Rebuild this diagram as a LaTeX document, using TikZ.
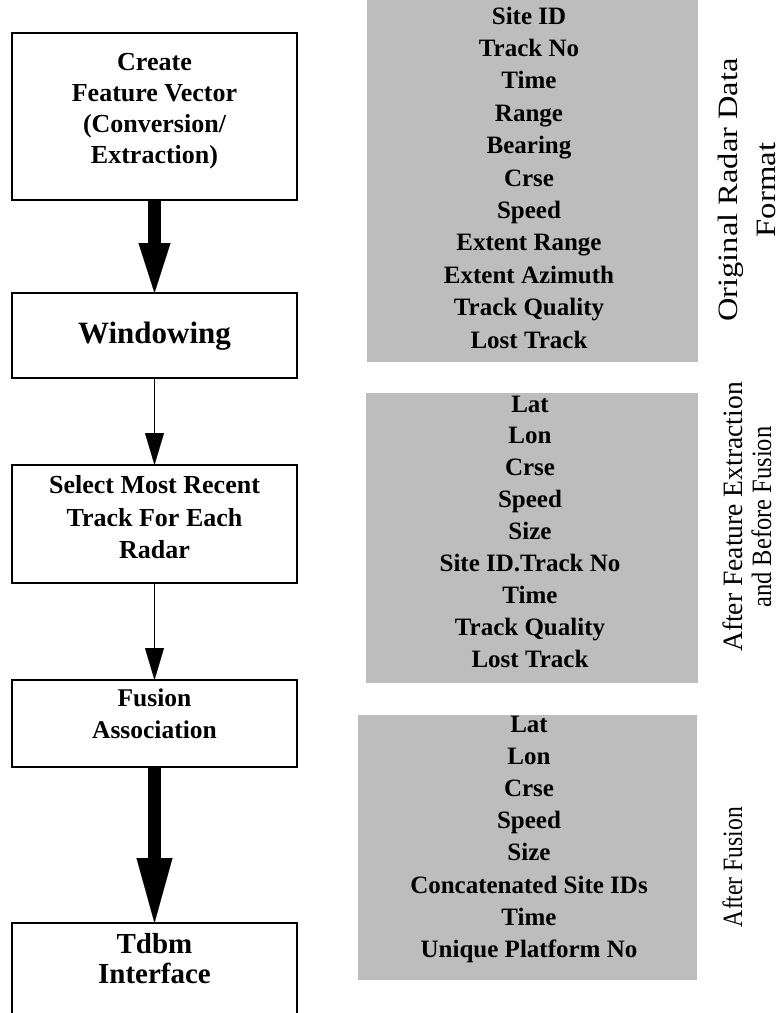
\documentclass[tikz,border=0pt]{standalone}
\usepackage{fontspec}
\setmainfont{Liberation Serif}
\usetikzlibrary{arrows.meta}
\definecolor{halftone}{gray}{0.74}
\tikzset{
  stage/.style={draw, line width=1.2pt, minimum width=285pt, inner sep=0pt, outer sep=0pt},
  panel/.style={fill=halftone, inner sep=0pt, outer sep=0pt},
  heavy/.style 2 args={line width=13pt, -{Triangle[length=#1, width=#2, line width=0.1pt]}},
  light/.style={line width=1.5pt, -{Triangle[length=32pt, width=19pt, line width=0.1pt]}},
  stagetext/.style={font=\bfseries\fontsize{#1}{#1}\selectfont, anchor=base, inner sep=0pt},
  fieldtext/.style={font=\bfseries\fontsize{25}{25}\selectfont, anchor=base, inner sep=0pt},
  sidelabel/.style={font=\fontsize{28}{28}\selectfont, anchor=base, inner sep=0pt, rotate=90}
}
\begin{document}
\begin{tikzpicture}[x=1pt, y=-1pt]
\path[use as bounding box] (0,0) rectangle (783,1013);
\clip (0,0) rectangle (783,1013);
\fill[white] (0,0) rectangle (783,1013);

% processing stages
\node[stage, minimum height=167pt] (create) at (154.5,116.5) {};
\node[stage, minimum height=85pt]  (window) at (154.5,335.5) {};
\node[stage, minimum height=118pt] (select) at (154.5,524) {};
\node[stage, minimum height=87pt]  (fusion) at (154.5,723.5) {};
\node[stage, minimum height=110pt] (tdbm)   at (154.5,978) {};

\node[stagetext=26] (create-1) at (154.5,70)  {Create};
\node[stagetext=26] (create-2) at (154.5,101) {Feature Vector};
\node[stagetext=26] (create-3) at (154.5,132) {(Conversion/};
\node[stagetext=26] (create-4) at (154.5,163) {Extraction)};

\node[stagetext=31] (window-1) at (154.5,343) {Windowing};

\node[stagetext=26] (select-1) at (154.5,493) {Select Most Recent};
\node[stagetext=26] (select-2) at (154.5,526) {Track For Each};
\node[stagetext=26] (select-3) at (154.5,558) {Radar};

\node[stagetext=25.5] (fusion-1) at (154.5,706) {Fusion};
\node[stagetext=25.5] (fusion-2) at (154.5,738) {Association};

\node[stagetext=29] (tdbm-1) at (154.5,953) {Tdbm};
\node[stagetext=29] (tdbm-2) at (154.5,983) {Interface};

% flow between stages
\draw[heavy={50pt}{32pt}] (create.south) -- (window.north);
\draw[light] (window.south) -- (select.north);
\draw[light] (select.south) -- (fusion.north);
\draw[heavy={65pt}{36pt}] (fusion.south) -- (tdbm.north);

% record layouts
\node[panel, minimum width=331pt, minimum height=372pt] (orig) at (532.5,176) {};
\node[panel, minimum width=332pt, minimum height=290pt] (feat) at (532,538) {};
\node[panel, minimum width=339pt, minimum height=265pt] (fused) at (527.5,847.5) {};

\foreach \txt [count=\i from 0] in {Site ID, Track No, Time, Range, Bearing, Crse, Speed,
    Extent Range, Extent Azimuth, Track Quality, Lost Track}
  \node[fieldtext] (orig-\i) at (529,{24+32.4*\i}) {\txt};

\foreach \txt [count=\i from 0] in {Lat, Lon, Crse, Speed, Size, Site ID.Track No, Time,
    Track Quality, Lost Track}
  \node[fieldtext] (feat-\i) at (530,{412+31.9*\i}) {\txt};

\foreach \txt [count=\i from 0] in {Lat, Lon, Crse, Speed, Size, Concatenated Site IDs, Time,
    Unique Platform No}
  \node[fieldtext] (fused-\i) at (529,{732+32.2*\i}) {\txt};

% layout captions
\node[sidelabel] (orig-cap-1) at (737,190) {\scalebox{1.16}[1]{Original Radar Data}};
\node[sidelabel] (orig-cap-2) at (775,190) {\scalebox{1.17}[1]{Format}};
\node[sidelabel] (feat-cap-1) at (742,517) {\scalebox{0.986}[1]{After Feature Extraction}};
\node[sidelabel] (feat-cap-2) at (771,517) {\scalebox{0.875}[1]{and Before Fusion}};
\node[sidelabel] (fused-cap) at (742,867) {\scalebox{0.843}[1]{After Fusion}};
\end{tikzpicture}
\end{document}
